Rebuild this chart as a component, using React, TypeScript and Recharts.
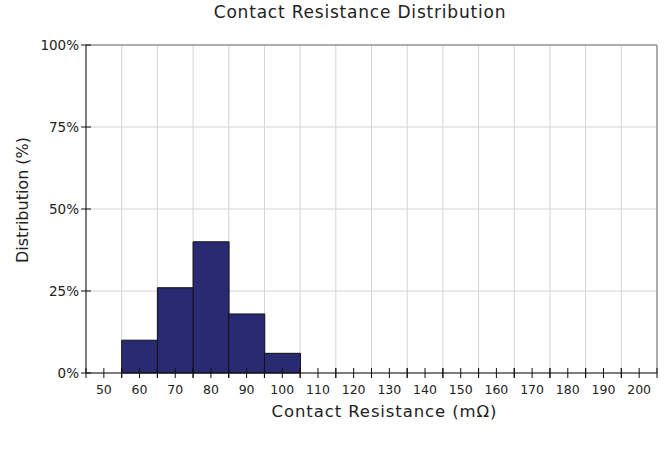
import React from 'react';
import { BarChart, Bar, XAxis, YAxis, CartesianGrid, ReferenceLine } from 'recharts';

// bin centres (mΩ) and share of samples in each bin (%)
const resistance = [50, 60, 70, 80, 90, 100, 110, 120, 130, 140, 150, 160, 170, 180, 190, 200];
const distribution = [0, 10, 26, 40, 18, 6, 0, 0, 0, 0, 0, 0, 0, 0, 0, 0];
const percentTicks = [0, 25, 50, 75, 100];
const binWidth = 10;

const binEdges = resistance.map((r) => r - binWidth / 2).concat(resistance[resistance.length - 1] + binWidth / 2);
const data = resistance.map((r, i) => ({ r, pct: distribution[i] }));

const FONT = '"DejaVu Sans", Verdana, sans-serif';

const XTick = (props: any) => {
    const { x, y, payload } = props;
    const half = payload.offset || 0;
    const axisY = y - 5;
    return (
        <g>
            <line x1={x} x2={x} y1={axisY - 5} y2={axisY + 5} stroke="#111" />
            <line x1={x - half} x2={x - half} y1={axisY - 5} y2={axisY + 5} stroke="#111" />
            <line x1={x + half} x2={x + half} y1={axisY - 5} y2={axisY + 5} stroke="#111" />
            <text x={x} y={axisY + 21} textAnchor="middle" fontSize={12.5} fill="#222" fontFamily={FONT}>
                {payload.value}
            </text>
        </g>
    );
};

const YTick = (props: any) => {
    const { x, y, payload } = props;
    const axisX = x + 5;
    return (
        <g>
            <line x1={axisX - 5} x2={axisX + 5} y1={y} y2={y} stroke="#111" />
            <text x={axisX - 7} y={y + 5} textAnchor="end" fontSize={13.5} fill="#222" fontFamily={FONT}>
                {payload.value}%
            </text>
        </g>
    );
};

export default function App() {
    return (
        <div style={{ position: 'absolute', left: 0, top: 0, width: 670, height: 455, background: '#fff' }}>
            <div
                style={{
                    position: 'absolute',
                    left: 0,
                    width: 720,
                    top: 2,
                    textAlign: 'center',
                    fontFamily: FONT,
                    fontSize: 17,
                    letterSpacing: 0.8,
                    color: '#222',
                }}
            >
                Contact Resistance Distribution
            </div>
            <BarChart
                width={670}
                height={455}
                data={data}
                margin={{ top: 45, right: 13, left: 0, bottom: 0 }}
                barCategoryGap={0}
                barGap={0}
            >
                <XAxis
                    xAxisId="edges"
                    type="number"
                    dataKey="r"
                    domain={[binEdges[0], binEdges[binEdges.length - 1]]}
                    ticks={binEdges}
                    interval={0}
                    hide
                />
                <CartesianGrid xAxisId="edges" stroke="#d4d4d4" />
                <XAxis
                    dataKey="r"
                    height={82}
                    stroke="#111"
                    tickLine={false}
                    tickSize={5}
                    tickMargin={0}
                    interval={0}
                    tick={<XTick />}
                    label={(p: any) => {
                        const vb = p.viewBox;
                        return (
                            <text
                                x={vb.x + vb.width / 2 + 13}
                                y={vb.y + 44}
                                textAnchor="middle"
                                fontSize={16.5}
                                letterSpacing={0.9}
                                fill="#222"
                                fontFamily={FONT}
                            >
                                Contact Resistance (mΩ)
                            </text>
                        );
                    }}
                />
                <YAxis
                    width={86}
                    domain={[0, 100]}
                    ticks={percentTicks}
                    stroke="#111"
                    tickLine={false}
                    tickSize={5}
                    tickMargin={0}
                    tick={<YTick />}
                    label={(p: any) => {
                        const vb = p.viewBox;
                        const cx = 28;
                        const cy = vb.y + vb.height / 2 - 9;
                        return (
                            <text
                                x={cx}
                                y={cy}
                                transform={`rotate(-90 ${cx} ${cy})`}
                                textAnchor="middle"
                                fontSize={16}
                                fill="#222"
                                fontFamily={FONT}
                            >
                                Distribution (%)
                            </text>
                        );
                    }}
                />
                <ReferenceLine y={100} stroke="#999" strokeWidth={1.5} />
                <ReferenceLine xAxisId="edges" x={binEdges[binEdges.length - 1]} stroke="#999" strokeWidth={1.5} />
                <Bar dataKey="pct" fill="#2A2A72" stroke="#111" strokeWidth={1} isAnimationActive={false} />
            </BarChart>
        </div>
    );
}
